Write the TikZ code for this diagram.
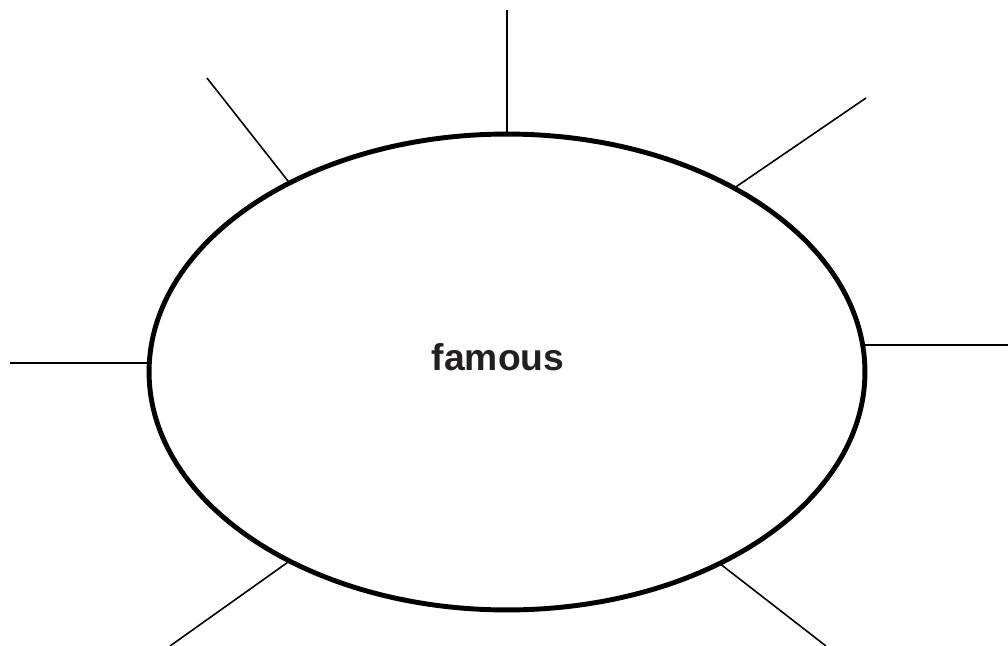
\documentclass[tikz,border=0pt]{standalone}
\usepackage{fontspec}
\setmainfont{Liberation Sans}
\usetikzlibrary{shapes.geometric}
\definecolor{ink}{HTML}{231F20}

\begin{document}
\begin{tikzpicture}[x=0.02cm,y=-0.02cm,
 bubble/.style={draw,ellipse,line width=2.8pt,minimum width=14.32cm,minimum height=9.52cm,inner sep=0pt,outer sep=0pt},
 word/.style={text=ink,font=\bfseries\fontsize{21.2}{26}\selectfont},
 spoke/.style={line width=0.9pt}]
\useasboundingbox (0,0) rectangle (1008,646);
% centre bubble and word
\node[bubble] (e) at (507,372) {};
\node[word] (w) at (498,357) {famous};
% free ends of the spokes
\coordinate (top) at (507,10);
\coordinate (ul) at (207,78);
\coordinate (ur) at (866,98);
\coordinate (lt) at (10,363);
\coordinate (rt) at (1008,345);
\coordinate (ll) at (170,646);
\coordinate (lr) at (826,646);
% spokes
\draw[spoke] (e.90)--(top);
\draw[spoke] (e.139)--(ul);
\draw[spoke] (e.39)--(ur);
\draw[spoke] (e.west |- lt)--(lt);
\draw[spoke] ([xshift=-0.05cm]e.east |- rt)--(rt);
\draw[spoke] (e.221)--(ll);
\draw[spoke] (e.318)--(lr);
\end{tikzpicture}
\end{document}
